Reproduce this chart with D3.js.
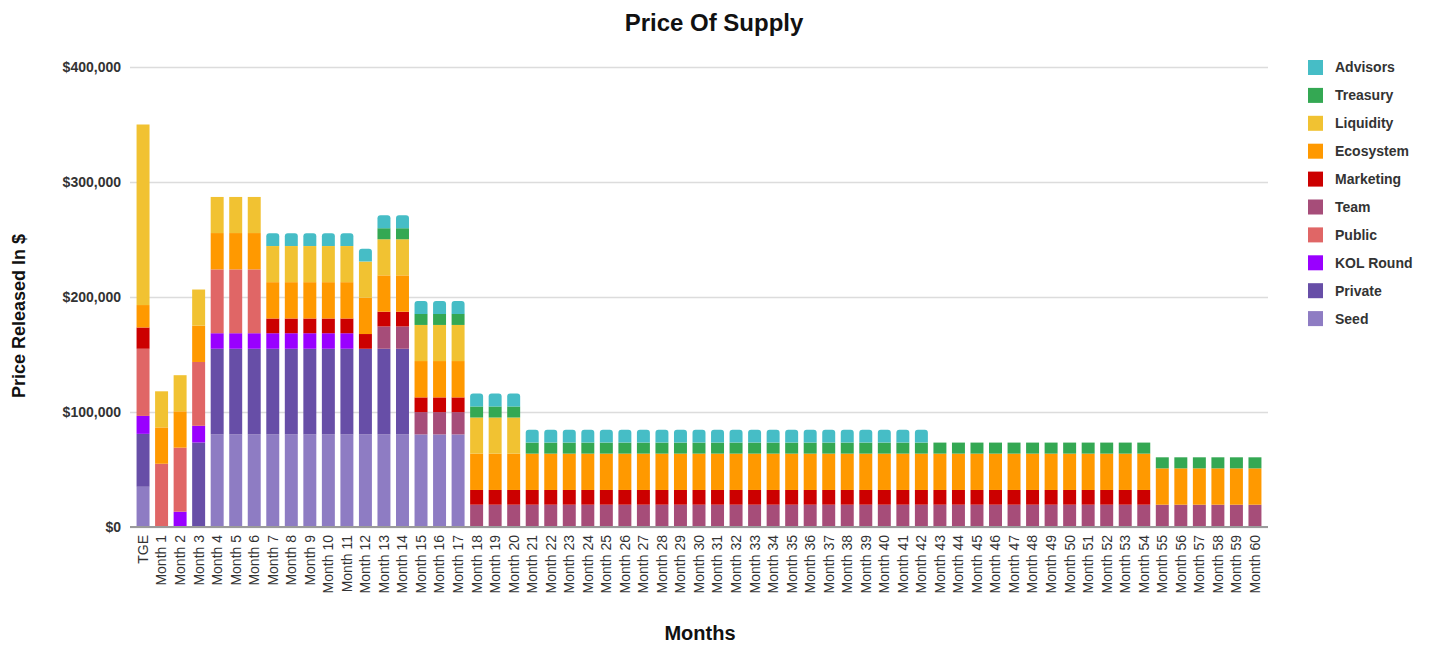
<!DOCTYPE html>
<html>
<head>
<meta charset="utf-8">
<script src="https://cdn.jsdelivr.net/npm/d3@7/dist/d3.min.js"></script>
<style>
  html, body { margin: 0; padding: 0; background: #fff; }
  svg { display: block; font-family: "Liberation Sans", Arial, sans-serif; }
</style>
</head>
<body>
<svg id="chart" width="1435" height="646"></svg>
<script>
// Release schedule: dollar value unlocked per allocation, TGE then monthly.
const categories = [
  "TGE", "Month 1", "Month 2", "Month 3", "Month 4", "Month 5", "Month 6", "Month 7", "Month 8", "Month 9", "Month 10",
  "Month 11", "Month 12", "Month 13", "Month 14", "Month 15", "Month 16", "Month 17", "Month 18", "Month 19", "Month 20",
  "Month 21", "Month 22", "Month 23", "Month 24", "Month 25", "Month 26", "Month 27", "Month 28", "Month 29", "Month 30",
  "Month 31", "Month 32", "Month 33", "Month 34", "Month 35", "Month 36", "Month 37", "Month 38", "Month 39", "Month 40",
  "Month 41", "Month 42", "Month 43", "Month 44", "Month 45", "Month 46", "Month 47", "Month 48", "Month 49", "Month 50",
  "Month 51", "Month 52", "Month 53", "Month 54", "Month 55", "Month 56", "Month 57", "Month 58", "Month 59", "Month 60"
];

const seed = [
  35000, 0, 0, 0, 80500, 80500, 80500, 80500, 80500, 80500, 80500,
  80500, 80500, 80500, 80500, 80500, 80500, 80500, 0, 0, 0,
  0, 0, 0, 0, 0, 0, 0, 0, 0, 0,
  0, 0, 0, 0, 0, 0, 0, 0, 0, 0,
  0, 0, 0, 0, 0, 0, 0, 0, 0, 0,
  0, 0, 0, 0, 0, 0, 0, 0, 0, 0
];
const privateRound = [
  46000, 0, 0, 73500, 74500, 74500, 74500, 74500, 74500, 74500, 74500,
  74500, 74500, 74500, 74500, 0, 0, 0, 0, 0, 0,
  0, 0, 0, 0, 0, 0, 0, 0, 0, 0,
  0, 0, 0, 0, 0, 0, 0, 0, 0, 0,
  0, 0, 0, 0, 0, 0, 0, 0, 0, 0,
  0, 0, 0, 0, 0, 0, 0, 0, 0, 0
];
const kolRound = [
  15600, 0, 13300, 14500, 13500, 13500, 13500, 13500, 13500, 13500, 13500,
  13500, 0, 0, 0, 0, 0, 0, 0, 0, 0,
  0, 0, 0, 0, 0, 0, 0, 0, 0, 0,
  0, 0, 0, 0, 0, 0, 0, 0, 0, 0,
  0, 0, 0, 0, 0, 0, 0, 0, 0, 0,
  0, 0, 0, 0, 0, 0, 0, 0, 0, 0
];
const publicRound = [
  58400, 55000, 55700, 55500, 55500, 55500, 55500, 0, 0, 0, 0,
  0, 0, 0, 0, 0, 0, 0, 0, 0, 0,
  0, 0, 0, 0, 0, 0, 0, 0, 0, 0,
  0, 0, 0, 0, 0, 0, 0, 0, 0, 0,
  0, 0, 0, 0, 0, 0, 0, 0, 0, 0,
  0, 0, 0, 0, 0, 0, 0, 0, 0, 0
];
const team = [
  0, 0, 0, 0, 0, 0, 0, 0, 0, 0, 0,
  0, 0, 19400, 19400, 19400, 19400, 19400, 19400, 19400, 19400,
  19400, 19400, 19400, 19400, 19400, 19400, 19400, 19400, 19400, 19400,
  19400, 19400, 19400, 19400, 19400, 19400, 19400, 19400, 19400, 19400,
  19400, 19400, 19400, 19400, 19400, 19400, 19400, 19400, 19400, 19400,
  19400, 19400, 19400, 19400, 19400, 19400, 19400, 19400, 19400, 19400
];
const marketing = [
  18500, 0, 0, 0, 0, 0, 0, 12800, 12800, 12800, 12800,
  12800, 12800, 12800, 12800, 12800, 12800, 12800, 12800, 12800, 12800,
  12800, 12800, 12800, 12800, 12800, 12800, 12800, 12800, 12800, 12800,
  12800, 12800, 12800, 12800, 12800, 12800, 12800, 12800, 12800, 12800,
  12800, 12800, 12800, 12800, 12800, 12800, 12800, 12800, 12800, 12800,
  12800, 12800, 12800, 12800, 0, 0, 0, 0, 0, 0
];
const ecosystem = [
  19500, 31600, 31600, 31600, 31600, 31600, 31600, 31600, 31600, 31600, 31600,
  31600, 31600, 31600, 31600, 31600, 31600, 31600, 31600, 31600, 31600,
  31600, 31600, 31600, 31600, 31600, 31600, 31600, 31600, 31600, 31600,
  31600, 31600, 31600, 31600, 31600, 31600, 31600, 31600, 31600, 31600,
  31600, 31600, 31600, 31600, 31600, 31600, 31600, 31600, 31600, 31600,
  31600, 31600, 31600, 31600, 31600, 31600, 31600, 31600, 31600, 31600
];
const liquidity = [
  157000, 31400, 31400, 31400, 31400, 31400, 31400, 31400, 31400, 31400, 31400,
  31400, 31400, 31400, 31400, 31400, 31400, 31400, 31400, 31400, 31400,
  0, 0, 0, 0, 0, 0, 0, 0, 0, 0,
  0, 0, 0, 0, 0, 0, 0, 0, 0, 0,
  0, 0, 0, 0, 0, 0, 0, 0, 0, 0,
  0, 0, 0, 0, 0, 0, 0, 0, 0, 0
];
const treasury = [
  0, 0, 0, 0, 0, 0, 0, 0, 0, 0, 0,
  0, 0, 9600, 9600, 9600, 9600, 9600, 9600, 9600, 9600,
  9600, 9600, 9600, 9600, 9600, 9600, 9600, 9600, 9600, 9600,
  9600, 9600, 9600, 9600, 9600, 9600, 9600, 9600, 9600, 9600,
  9600, 9600, 9600, 9600, 9600, 9600, 9600, 9600, 9600, 9600,
  9600, 9600, 9600, 9600, 9600, 9600, 9600, 9600, 9600, 9600
];
const advisors = [
  0, 0, 0, 0, 0, 0, 0, 11200, 11200, 11200, 11200,
  11200, 11200, 11200, 11200, 11200, 11200, 11200, 11200, 11200, 11200,
  11200, 11200, 11200, 11200, 11200, 11200, 11200, 11200, 11200, 11200,
  11200, 11200, 11200, 11200, 11200, 11200, 11200, 11200, 11200, 11200,
  11200, 11200, 0, 0, 0, 0, 0, 0, 0, 0,
  0, 0, 0, 0, 0, 0, 0, 0, 0, 0
];

// Stacking order, bottom to top
const seriesNames = ["Seed", "Private", "KOL Round", "Public", "Team", "Marketing", "Ecosystem", "Liquidity", "Treasury", "Advisors"];
const seriesValues = [seed, privateRound, kolRound, publicRound, team, marketing, ecosystem, liquidity, treasury, advisors];
const seriesColors = ["#8e7cc3", "#674ea7", "#9900ff", "#e06666", "#a64d79", "#cc0000", "#ff9900", "#f1c232", "#34a853", "#46bdc6"];

const yTicks = [0, 100000, 200000, 300000, 400000];

// Row table for d3.stack
const rows = categories.map((c, i) => {
  const r = { category: c };
  seriesNames.forEach((n, k) => { r[n] = seriesValues[k][i]; });
  return r;
});

const svg = d3.select("#chart");
const font = '"Liberation Sans", Arial, sans-serif';

const x = d3.scaleBand().domain(categories).range([131, 1267]).padding(0.3);
const y = d3.scaleLinear().domain([0, 400000]).range([527, 67]);
const color = d3.scaleOrdinal().domain(seriesNames).range(seriesColors);

// Title
svg.append("text")
  .attr("x", 714).attr("y", 31)
  .attr("text-anchor", "middle")
  .attr("font-size", 24).attr("font-weight", "bold").attr("fill", "#111")
  .text("Price Of Supply");

// Gridlines + y labels
const yAxis = d3.axisLeft(y)
  .tickValues(yTicks)
  .tickSize(-(1268 - 130))
  .tickPadding(9)
  .tickFormat(d => "$" + d3.format(",")(d));
const gy = svg.append("g").attr("transform", "translate(130,0)").call(yAxis);
gy.select(".domain").remove();
gy.selectAll(".tick line").attr("stroke", "#dcdcdc").attr("stroke-width", 1.5);
gy.selectAll(".tick text")
  .attr("font-family", font).attr("font-size", 14).attr("font-weight", "bold").attr("fill", "#333");

// Stacked bars
const stacked = d3.stack().keys(seriesNames)(rows);
const barsG = svg.append("g");
stacked.forEach(layer => {
  const key = layer.key;
  const g = barsG.append("g").attr("fill", color(key));
  const segs = layer.filter(d => d[1] - d[0] > 0);
  if (key === "Advisors") {
    // Top segment with softened upper corners
    g.selectAll("path").data(segs).join("path")
      .attr("d", d => {
        const x0 = x(d.data.category), w = x.bandwidth();
        const yt = y(d[1]), yb = y(d[0]), r = 3;
        return `M${x0},${yb}V${yt + r}Q${x0},${yt} ${x0 + r},${yt}H${x0 + w - r}Q${x0 + w},${yt} ${x0 + w},${yt + r}V${yb}Z`;
      });
  } else {
    g.selectAll("rect").data(segs).join("rect")
      .attr("x", d => x(d.data.category))
      .attr("width", x.bandwidth())
      .attr("y", d => y(d[1]))
      .attr("height", d => y(d[0]) - y(d[1]));
  }
});

// Baseline
svg.append("line")
  .attr("x1", 130).attr("x2", 1268)
  .attr("y1", y(0)).attr("y2", y(0))
  .attr("stroke", "#9a9a9a").attr("stroke-width", 2);

// Category labels, rotated
const gx = svg.append("g");
gx.selectAll("text").data(categories).join("text")
  .attr("transform", d => `translate(${x(d) + x.bandwidth() / 2},535) rotate(-90)`)
  .attr("text-anchor", "end")
  .attr("dy", "0.35em")
  .attr("font-size", 14).attr("fill", "#333")
  .text(d => d);

// Axis titles
svg.append("text")
  .attr("x", 700).attr("y", 640)
  .attr("text-anchor", "middle")
  .attr("font-size", 20).attr("font-weight", "bold").attr("fill", "#111")
  .text("Months");

svg.append("text")
  .attr("transform", "translate(25,316) rotate(-90)")
  .attr("text-anchor", "middle")
  .attr("font-size", 18).attr("font-weight", "bold").attr("fill", "#111")
  .text("Price Released In $");

// Legend, top to bottom
const legendItems = seriesNames.slice().reverse();
const lg = svg.append("g").selectAll("g").data(legendItems).join("g")
  .attr("transform", (d, i) => `translate(1308,${60 + i * 27.9})`);
lg.append("rect").attr("width", 15).attr("height", 15).attr("fill", d => color(d));
lg.append("text")
  .attr("x", 27).attr("y", 7.5).attr("dy", "0.35em")
  .attr("font-size", 14).attr("font-weight", "bold").attr("fill", "#333")
  .text(d => d);
</script>
</body>
</html>
